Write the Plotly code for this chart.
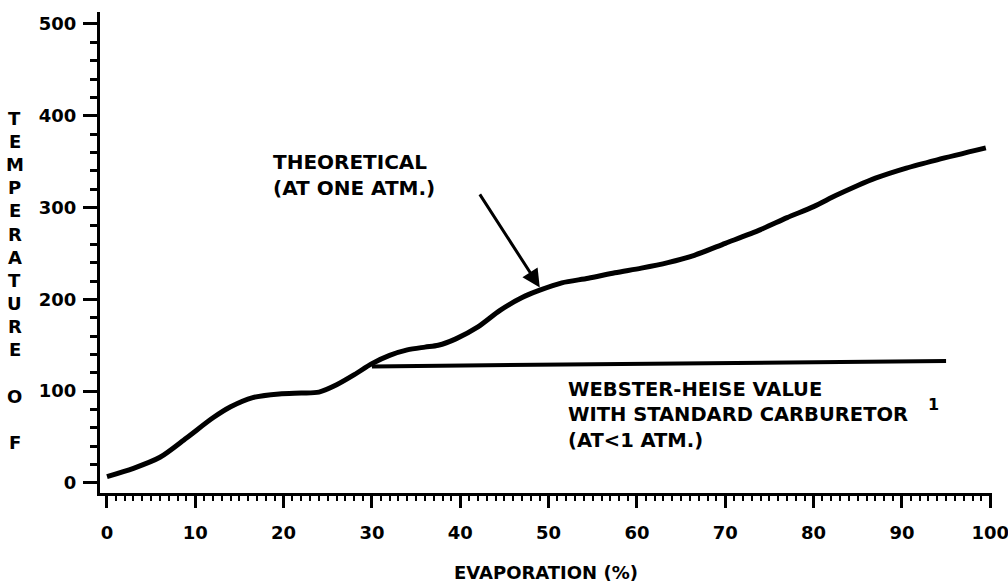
import plotly.graph_objects as go

# Data
evap_theoretical = [0, 3, 6, 9, 12, 14, 16.5, 19.5, 22, 24, 26, 28, 30, 32, 34, 36, 37.5, 39.5,
                    42, 44.5, 47, 49, 51.5, 54.5, 57.5, 60.5, 63.5, 66.5, 70, 74, 77, 80,
                    82.5, 85, 87, 90.5, 94, 99.5]
temp_theoretical = [7, 16, 28, 49, 71, 83, 93, 97, 98, 99, 107, 118, 130, 139, 145, 148, 150, 157,
                    170, 188, 202, 210, 218, 223, 229, 234, 240, 248, 261, 276, 289, 301,
                    313, 324, 332, 343, 352, 365]

evap_webster = [30, 50, 70, 95]
temp_webster = [127, 129, 131, 133]

x_ticks = [0, 10, 20, 30, 40, 50, 60, 70, 80, 90, 100]
y_ticks = [0, 100, 200, 300, 400, 500]
y_title_letters = ["T", "E", "M", "P", "E", "R", "A", "T", "U", "R", "E", "", "O", "", "F"]

FONT = "DejaVu Sans"
INK = "#000000"

fig = go.Figure()
fig.add_trace(go.Scatter(x=evap_theoretical, y=temp_theoretical, mode="lines",
                         line=dict(color=INK, width=5, shape="spline", smoothing=0.8),
                         showlegend=False, hoverinfo="skip"))
fig.add_trace(go.Scatter(x=evap_webster, y=temp_webster, mode="lines",
                         line=dict(color=INK, width=4),
                         showlegend=False, hoverinfo="skip"))

annotations = []
# Theoretical label and arrow
annotations.append(dict(x=18.6, y=335, xref="x", yref="y", xanchor="left", yanchor="middle",
                        text="THEORETICAL<br>(AT ONE ATM.)", showarrow=False, align="left",
                        font=dict(family=FONT, size=20, color=INK, weight="bold")))
annotations.append(dict(x=49.0, y=213, xref="x", yref="y", ax=42.1, ay=316, axref="x", ayref="y",
                        text="", showarrow=True, arrowhead=2, arrowsize=1.2, arrowwidth=3,
                        arrowcolor=INK))
# Webster label
annotations.append(dict(x=52.0, y=74, xref="x", yref="y", xanchor="left", yanchor="middle",
                        text="WEBSTER-HEISE VALUE<br>WITH STANDARD CARBURETOR<br>(AT&lt;1 ATM.)",
                        showarrow=False, align="left",
                        font=dict(family=FONT, size=19.5, color=INK, weight="bold")))
annotations.append(dict(x=93.6, y=85, xref="x", yref="y", xanchor="center", yanchor="middle",
                        text="1", showarrow=False,
                        font=dict(family=FONT, size=16, color=INK, weight="bold")))
# X title
annotations.append(dict(x=0.5, y=-0.166, xref="paper", yref="paper", xanchor="center",
                        yanchor="middle", text="EVAPORATION (%)", showarrow=False,
                        font=dict(family=FONT, size=18, color=INK, weight="bold")))
# Y title, stacked letters
for i, ch in enumerate(y_title_letters):
    if not ch:
        continue
    py = 118 + i * 23.2
    annotations.append(dict(x=-0.0953, y=(493 - py) / 481, xref="paper", yref="paper",
                            xanchor="center", yanchor="middle", text=ch, showarrow=False,
                            font=dict(family=FONT, size=18, color=INK, weight="bold")))

fig.update_layout(
    width=1008, height=585, autosize=False,
    margin=dict(l=100, r=16, t=12, b=92, pad=0),
    paper_bgcolor="white", plot_bgcolor="white",
    annotations=annotations,
    xaxis=dict(range=[-0.79, 100.2], showgrid=False, zeroline=False, automargin=False,
               showline=True, linecolor=INK, linewidth=3,
               tickmode="array", tickvals=x_ticks, ticktext=[str(v) for v in x_ticks],
               ticks="outside", ticklen=12, tickwidth=3, tickcolor=INK,
               minor=dict(dtick=1, tick0=0, ticks="outside", ticklen=5, tickwidth=2, tickcolor=INK),
               ticklabelstandoff=9, ticklabeloverflow="allow",
               tickfont=dict(family=FONT, size=18, color=INK, weight="bold")),
    yaxis=dict(range=[-10.9, 513], showgrid=False, zeroline=False, automargin=False,
               showline=True, linecolor=INK, linewidth=3,
               tickmode="array", tickvals=y_ticks, ticktext=[str(v) for v in y_ticks],
               ticks="outside", ticklen=14, tickwidth=3, tickcolor=INK,
               minor=dict(dtick=20, tick0=0, ticks="outside", ticklen=7, tickwidth=3, tickcolor=INK),
               ticklabelstandoff=3, ticklabeloverflow="allow",
               tickfont=dict(family=FONT, size=18, color=INK, weight="bold")),
)

fig.write_html("out.html")
